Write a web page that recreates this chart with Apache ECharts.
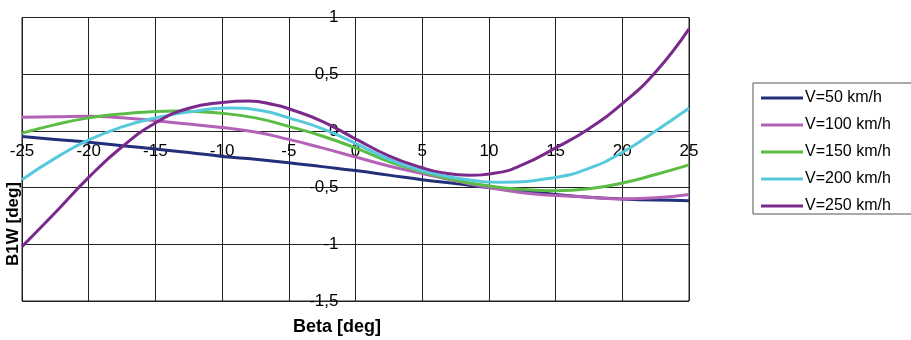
<!DOCTYPE html>
<html>
<head>
<meta charset="utf-8">
<script src="https://cdn.jsdelivr.net/npm/echarts@6/dist/echarts.min.js"></script>
<style>
html,body{margin:0;padding:0;background:#fff;}
#c{width:911px;height:340px;}
</style>
</head>
<body>
<div id="c"></div>
<script>
const seriesNames = ['V=50 km/h','V=100 km/h','V=150 km/h','V=200 km/h','V=250 km/h'];
const beta50  = [-25,-22.5,-20,-17.5,-15,-12.5,-10,-7.5,-5,-2.5,0,2.5,5,7.5,10,12.5,15,17.5,20,22.5,25];
const v50     = [-0.05,-0.075,-0.10,-0.13,-0.16,-0.19,-0.225,-0.25,-0.28,-0.315,-0.35,-0.39,-0.43,-0.465,-0.5,-0.525,-0.56,-0.585,-0.60,-0.61,-0.615];
const beta100 = [-25,-22.5,-20,-17.5,-15,-12.5,-10,-7.5,-5,-2.5,0,2.5,5,7.5,10,12.5,15,17.5,20,22.5,25];
const v100    = [0.12,0.125,0.13,0.115,0.09,0.06,0.03,-0.01,-0.075,-0.15,-0.23,-0.31,-0.375,-0.44,-0.5,-0.545,-0.57,-0.585,-0.60,-0.59,-0.56];
const beta150 = [-25,-22.5,-20,-17.5,-13.5,-10,-7.5,-5,-2.5,0,2.5,5,7.5,10,12.5,15,17.5,20,22.5,25];
const v150    = [-0.02,0.055,0.115,0.15,0.176,0.155,0.115,0.04,-0.045,-0.15,-0.27,-0.36,-0.435,-0.485,-0.515,-0.527,-0.51,-0.46,-0.385,-0.30];
const beta200 = [-25,-22.5,-20,-17.5,-15,-12.5,-9.5,-7,-5,-2.5,0,2.5,5,7.5,11,15,17.5,20,22.5,25];
const v200    = [-0.43,-0.24,-0.08,0.035,0.115,0.167,0.203,0.178,0.115,0.02,-0.11,-0.25,-0.35,-0.415,-0.452,-0.41,-0.33,-0.19,0.0,0.2];
const beta250 = [-25,-22.5,-20,-17.5,-15,-12.5,-10,-8,-6,-5,-2.5,0,2.5,5,6.5,8.5,10.5,12.5,15,17.5,20,22.5,25];
const v250    = [-1.02,-0.72,-0.41,-0.14,0.07,0.2,0.25,0.263,0.228,0.195,0.085,-0.07,-0.22,-0.325,-0.368,-0.39,-0.372,-0.3,-0.15,0.02,0.24,0.52,0.9];
const allBeta = [beta50,beta100,beta150,beta200,beta250];
const allValues = [v50,v100,v150,v200,v250];
const colors = ['#22307a','#b462b8','#5bbd45','#57c9dc','#7a2a8c'];

const fmt = v => String(v).replace('.', ',');
const GRID = {left:22, right:222, top:17.5, bottom:39};
const W = 911 - GRID.left - GRID.right;
const H = 340 - GRID.top - GRID.bottom;
const Y_MIN = -1.5, Y_MAX = 1, X_MIN = -25, X_MAX = 25;
const chart = echarts.init(document.getElementById('c'), null, {renderer:'canvas'});
chart.setOption({
  animation:false,
  backgroundColor:'#fff',
  grid:{left:GRID.left,right:GRID.right,top:GRID.top,bottom:GRID.bottom,show:true,borderColor:'#222',borderWidth:1},
  legend:{
    orient:'vertical', left:753, top:83,
    padding:[7,60,0,8],
    itemGap:11, itemWidth:42, itemHeight:3, icon:'rect',
    borderColor:'#555', borderWidth:1,
    textStyle:{fontFamily:'Liberation Sans, Arial',fontSize:16,color:'#000',lineHeight:16,padding:[0,0,0,-3]},
    data:seriesNames
  },
  xAxis:{
    type:'value', min:X_MIN, max:X_MAX, interval:5,
    offset: -H * (0 - Y_MIN) / (Y_MAX - Y_MIN),
    axisLine:{show:true,onZero:false,lineStyle:{color:'#222',width:1}},
    axisTick:{show:false},
    splitLine:{show:true,lineStyle:{color:'#222',width:1}},
    axisLabel:{margin:12,fontFamily:'Liberation Sans, Arial',fontSize:17,color:'#000',formatter:fmt,showMinLabel:true,showMaxLabel:true}
  },
  yAxis:{
    type:'value', min:Y_MIN, max:Y_MAX, interval:0.5,
    offset: -W * (0 - X_MIN) / (X_MAX - X_MIN),
    axisLine:{show:true,onZero:false,lineStyle:{color:'#222',width:1}},
    axisTick:{show:false},
    splitLine:{show:true,lineStyle:{color:'#222',width:1}},
    axisLabel:{margin:17,fontFamily:'Liberation Sans, Arial',fontSize:17,color:'#000',formatter:fmt,showMinLabel:true,showMaxLabel:true}
  },
  graphic:[
    {type:'text',x:337,y:327,style:{text:'Beta [deg]',fontFamily:'Liberation Sans, Arial',fontSize:18,fontWeight:'bold',fill:'#000',align:'center',verticalAlign:'middle'}},
    {type:'text',x:13,y:224,rotation:Math.PI/2,style:{text:'B1W [deg]',fontFamily:'Liberation Sans, Arial',fontSize:17,fontWeight:'bold',fill:'#000',align:'center',verticalAlign:'middle'}}
  ],
  series: allValues.map((vals,i)=>({
    name:seriesNames[i], type:'line', smooth:true, showSymbol:false,
    data: allBeta[i].map((b,j)=>[b,vals[j]]),
    lineStyle:{color:colors[i],width:3}, itemStyle:{color:colors[i]}
  }))
});
</script>
</body>
</html>
